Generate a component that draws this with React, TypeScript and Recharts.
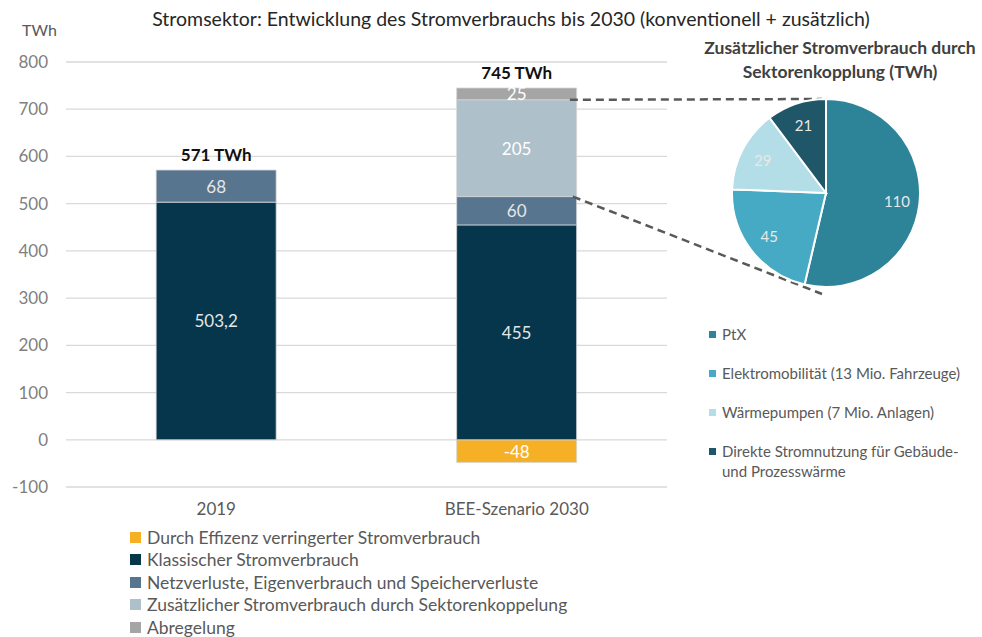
import React from "react";
import { BarChart, Bar, XAxis, YAxis, CartesianGrid, LabelList, PieChart, Pie, Cell } from "recharts";

const categories = ["2019", "BEE-Szenario 2030"];
const effizienz = [null, -48];
const klassisch = [503.2, 455];
const netz = [68, 60];
const zusaetzlich = [null, 205];
const abregelung = [null, 25];
const yTicks = [-100, 0, 100, 200, 300, 400, 500, 600, 700, 800];

const pieNames = [
  "PtX",
  "Elektromobilität (13 Mio. Fahrzeuge)",
  "Wärmepumpen (7 Mio. Anlagen)",
  "Direkte Stromnutzung für Gebäude- und Prozesswärme",
];
const pieValues = [110, 45, 29, 21];
const pieColors = ["#2D8499", "#47AAC4", "#B3DEE8", "#1F5668"];

const series = [
  { key: "effizienz", name: "Durch Effizenz verringerter Stromverbrauch", color: "#F6B026", values: effizienz, labelColor: "#ffffff" },
  { key: "klassisch", name: "Klassischer Stromverbrauch", color: "#05364C", values: klassisch, labelColor: "#e6e6e6" },
  { key: "netz", name: "Netzverluste, Eigenverbrauch und Speicherverluste", color: "#587590", values: netz, labelColor: "#e6e6e6" },
  { key: "zusaetzlich", name: "Zusätzlicher Stromverbrauch durch Sektorenkoppelung", color: "#AEC0CA", values: zusaetzlich, labelColor: "#ffffff" },
  { key: "abregelung", name: "Abregelung", color: "#A5A5A5", values: abregelung, labelColor: "#ffffff" },
];

const data = categories.map((c, i) => {
  const row: any = { name: c };
  series.forEach((s) => (row[s.key] = s.values[i]));
  return row;
});

// top positive series per category & totals
const positiveKeys = ["klassisch", "netz", "zusaetzlich", "abregelung"];
const topKey = data.map((row) => {
  let k = "";
  positiveKeys.forEach((p) => {
    if (row[p] != null && row[p] > 0) k = p;
  });
  return k;
});
const totals = data.map((row) => positiveKeys.reduce((a, p) => a + (row[p] || 0), 0));

const FONT = "Lato, 'Open Sans', sans-serif";

// layout constants
const W = 982;
const H = 637;
const chartW = 700;
const plotLeft = 66;
const plotRight = 667;
const plotTop = 62;
const plotBottom = 487;
const yMin = -100;
const yMax = 800;
const yPix = (v: number) => plotTop + ((yMax - v) * (plotBottom - plotTop)) / (yMax - yMin);
const band = (plotRight - plotLeft) / categories.length;
const barW = band * 0.4;

const pieCx = 826;
const pieCy = 193;
const pieR = 94;
const pieBoxW = 300;
const pieBoxH = 300;

const fmt = (v: any) => (v == null ? "" : String(v).replace(".", ","));

const renderInside = (color: string) => (props: any) => {
  const { x, y, width, height, value } = props;
  if (value == null || value === 0) return null;
  return (
    <text x={x + width / 2} y={y + height / 2} fill={color} fontSize={17} fontFamily={FONT} textAnchor="middle" dominantBaseline="central">
      {fmt(value)}
    </text>
  );
};

const renderTotal = (key: string) => (props: any) => {
  const { x, y, width, height, value } = props;
  if (value == null) return null;
  const idx = Math.max(0, Math.min(categories.length - 1, Math.floor((x + width / 2 - plotLeft) / band)));
  if (topKey[idx] !== key) return null;
  const top = Math.min(y, y + height);
  return (
    <text x={x + width / 2} y={top - 9} fill="#111" fontSize={17} fontWeight={700} fontFamily={FONT} textAnchor="middle">
      {Math.round(totals[idx]) + " TWh"}
    </text>
  );
};

const RAD = Math.PI / 180;
const renderPieLabel = (props: any) => {
  const { cx, cy, midAngle, outerRadius, value } = props;
  const r = outerRadius * 0.76;
  const x = cx + r * Math.cos(-midAngle * RAD);
  const y = cy + r * Math.sin(-midAngle * RAD);
  return (
    <text x={x} y={y} fill="#e8e8e8" fontSize={15} fontFamily={FONT} textAnchor="middle" dominantBaseline="central">
      {value}
    </text>
  );
};

const pieData = pieNames.map((n, i) => ({ name: n, value: pieValues[i] }));

export default function App() {
  const barRightX = plotLeft + band * 1.5 + barW / 2;
  const stackTop2030 = (klassisch[1] as number) + (netz[1] as number) + (zusaetzlich[1] as number);
  const stackMid2030 = (klassisch[1] as number) + (netz[1] as number);
  return (
    <div style={{ position: "absolute", left: 0, top: 0, width: W, height: H, background: "#fff", fontFamily: FONT, overflow: "hidden" }}>
      <div style={{ position: "absolute", left: 0, top: 7, width: 1022, textAlign: "center", fontSize: 19.5, color: "#262626", whiteSpace: "nowrap" }}>
        Stromsektor: Entwicklung des Stromverbrauchs bis 2030 (konventionell + zusätzlich)
      </div>
      <div style={{ position: "absolute", left: 22, top: 20, fontSize: 16, color: "#595959" }}>TWh</div>
      <div style={{ position: "absolute", left: 0, top: 0 }}>
        <BarChart
          width={chartW}
          height={H}
          data={data}
          stackOffset="sign"
          barCategoryGap="30%"
          margin={{ top: plotTop, right: chartW - plotRight, left: 0, bottom: H - plotBottom - 30 }}
        >
          <CartesianGrid vertical={false} stroke="#d9d9d9" strokeWidth={1.3} />
          <XAxis dataKey="name" axisLine={false} tickLine={false} height={30} tickMargin={10} tick={{ fill: "#595959", fontSize: 17, fontFamily: FONT }} interval={0} />
          <YAxis
            width={plotLeft}
            domain={[yMin, yMax]}
            ticks={yTicks}
            axisLine={false}
            tickLine={false}
            tickMargin={12}
            tick={{ fill: "#7f7f7f", fontSize: 17, fontFamily: FONT }}
            interval={0}
          />
          {series.map((s) => (
            <Bar key={s.key} dataKey={s.key} name={s.name} stackId="a" fill={s.color} stroke="#d5d5d5" strokeWidth={0.8} isAnimationActive={false}>
              <LabelList dataKey={s.key} content={renderInside(s.labelColor)} />
              {s.key !== "effizienz" ? <LabelList dataKey={s.key} content={renderTotal(s.key)} /> : null}
            </Bar>
          ))}
        </BarChart>
      </div>
      {/* bar legend */}
      <div style={{ position: "absolute", left: 130, top: 526 }}>
        {series.map((s) => (
          <div key={s.key} style={{ display: "flex", alignItems: "center", height: 22.5, fontSize: 17.5, color: "#595959", whiteSpace: "nowrap" }}>
            <span style={{ display: "inline-block", width: 11, height: 11, background: s.color, marginRight: 6 }} />
            {s.name}
          </div>
        ))}
      </div>
      {/* connectors */}
      <svg width={W} height={H} style={{ position: "absolute", left: 0, top: 0, pointerEvents: "none" }}>
        <line x1={barRightX - 7} y1={yPix(stackTop2030)} x2={pieCx - 4} y2={pieCy - pieR} stroke="#595959" strokeWidth={2.5} strokeDasharray="8 5" />
        <line x1={barRightX - 4} y1={yPix(stackMid2030)} x2={pieCx - 4} y2={pieCy + pieR + 7} stroke="#595959" strokeWidth={2.5} strokeDasharray="8 5" />
      </svg>
      {/* pie */}
      <div style={{ position: "absolute", left: 690, top: 36, width: 300, textAlign: "center", fontSize: 17.5, fontWeight: 700, color: "#404040", lineHeight: "24px", whiteSpace: "nowrap" }}>
        Zusätzlicher Stromverbrauch durch
        <br />
        Sektorenkopplung (TWh)
      </div>
      <div style={{ position: "absolute", left: pieCx - pieBoxW / 2, top: pieCy - pieBoxH / 2 }}>
        <PieChart width={pieBoxW} height={pieBoxH} margin={{ top: 0, right: 0, bottom: 0, left: 0 }}>
          <Pie
            data={pieData}
            dataKey="value"
            nameKey="name"
            cx={pieBoxW / 2}
            cy={pieBoxH / 2}
            outerRadius={pieR}
            startAngle={90}
            endAngle={-270}
            stroke="#ffffff"
            strokeWidth={2}
            label={renderPieLabel}
            labelLine={false}
            isAnimationActive={false}
          >
            {pieData.map((d, i) => (
              <Cell key={d.name} fill={pieColors[i]} />
            ))}
          </Pie>
        </PieChart>
      </div>
      <div style={{ position: "absolute", left: 709, top: 324, width: 275 }}>
        {pieNames.map((n, i) => (
          <div key={n} style={{ display: "flex", alignItems: "flex-start", fontSize: 15, color: "#595959", lineHeight: "20px", marginBottom: 19 }}>
            <span style={{ display: "inline-block", flex: "0 0 7px", width: 7, height: 7, background: pieColors[i], marginRight: 6, marginTop: 7 }} />
            <span style={{ width: 250 }}>{n}</span>
          </div>
        ))}
      </div>
    </div>
  );
}
